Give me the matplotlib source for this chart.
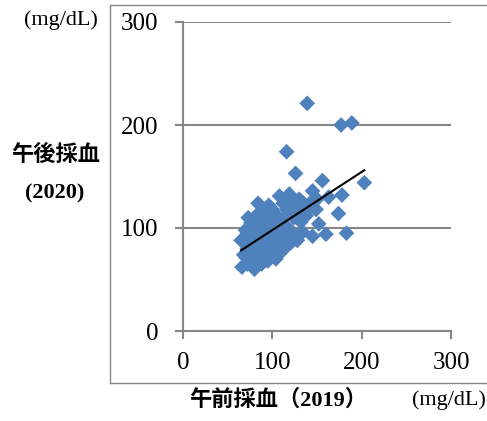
import numpy as np
import matplotlib.pyplot as plt
from matplotlib.lines import Line2D

# morning (2019) vs afternoon (2020) blood glucose, mg/dL
am_2019 = [66, 72, 80, 78, 70, 68, 65, 72, 75, 80, 85, 88, 92, 95, 90, 85, 78, 72, 70, 76,
           73, 80, 84, 88, 92, 96, 100, 104, 108, 112, 106, 100, 95, 90, 86, 82, 84, 90, 94, 98,
           102, 106, 110, 114, 118, 121, 116, 125, 120, 115, 110, 105, 100, 96, 108, 112, 116, 120, 124, 128,
           132, 136, 130, 126, 119, 122, 130, 135, 140, 145, 150, 156, 163, 149, 152, 145, 160, 138, 142, 128,
           134, 102, 98, 88, 76,
           139, 177, 189, 116, 126, 203, 178, 174, 183]
pm_2020 = [62, 65, 60, 68, 72, 74, 88, 80, 72, 75, 66, 65, 72, 68, 80, 85, 92, 95, 98, 105,
           110, 100, 95, 90, 86, 82, 78, 70, 75, 80, 88, 92, 96, 100, 106, 112, 124, 115, 108, 104,
           100, 96, 92, 88, 88, 86, 82, 94, 98, 102, 108, 112, 118, 122, 131, 124, 118, 116, 110, 110,
           106, 112, 118, 122, 133, 126, 128, 124, 118, 136, 128, 146, 130, 118, 104, 92, 94, 112, 124, 88,
           96, 84, 110, 96, 84,
           221, 200, 202, 174, 153, 144, 132, 114, 95]

x = np.array(am_2019)
y = np.array(pm_2020)

plt.rcParams['font.family'] = ['Liberation Serif', 'Noto Sans CJK JP']

fig = plt.figure(figsize=(4.87, 4.21), dpi=100)
ax = fig.add_axes([183 / 487, 1 - 331 / 421, 268 / 487, 309 / 421])

grid_c = '#868686'
ax.scatter(x, y, marker='D', s=8 ** 2, color='#4F81BD', edgecolors='none', zorder=3)

# linear trend line over the data range
k, b = np.polyfit(x, y, 1)
xs = np.array([x.min(), x.max()])
ax.plot(xs, k * xs + b, color='black', lw=1.5, zorder=4)

ax.set_xlim(0, 300)
ax.set_ylim(0, 300)
ax.set_xticks([0, 100, 200, 300])
ax.set_yticks([0, 100, 200, 300])
ax.yaxis.grid(True, color=grid_c, lw=1.5)
ax.set_axisbelow(True)
for s in ['top', 'right']:
    ax.spines[s].set_visible(False)
for s in ['left', 'bottom']:
    ax.spines[s].set_color(grid_c)
    ax.spines[s].set_linewidth(1.5)
ax.tick_params(direction='out', length=5.8, width=1.5, color=grid_c, labelsize=18)
ax.tick_params(axis='y', pad=12)
ax.tick_params(axis='x', pad=9)

# outer chart box
box = dict(color=grid_c, lw=1, transform=fig.transFigure)
fig.add_artist(Line2D([110 / 487, 110 / 487], [1 - 5 / 421, 1 - 383 / 421], **box))
fig.add_artist(Line2D([110 / 487, 1], [1 - 5 / 421, 1 - 5 / 421], **box))
fig.add_artist(Line2D([110 / 487, 1], [1 - 383 / 421, 1 - 383 / 421], **box))

# axis titles
fig.text(61 / 487, 1 - 20 / 421, '(mg/dL)', ha='center', va='center', fontsize=16)
fig.text(56 / 487, 1 - 155 / 421, '午後採血', ha='center', va='center', fontsize=16,
         fontweight='bold')
fig.text(55 / 487, 1 - 193 / 421, '(2020)', ha='center', va='center', fontsize=16,
         fontweight='bold')
fig.text(278 / 487, 1 - 400 / 421, '午前採血（2019）', ha='center', va='center', fontsize=16,
         fontweight='bold')
fig.text(449 / 487, 1 - 400 / 421, '(mg/dL)', ha='center', va='center', fontsize=16)

plt.savefig('out.png', dpi=100)
